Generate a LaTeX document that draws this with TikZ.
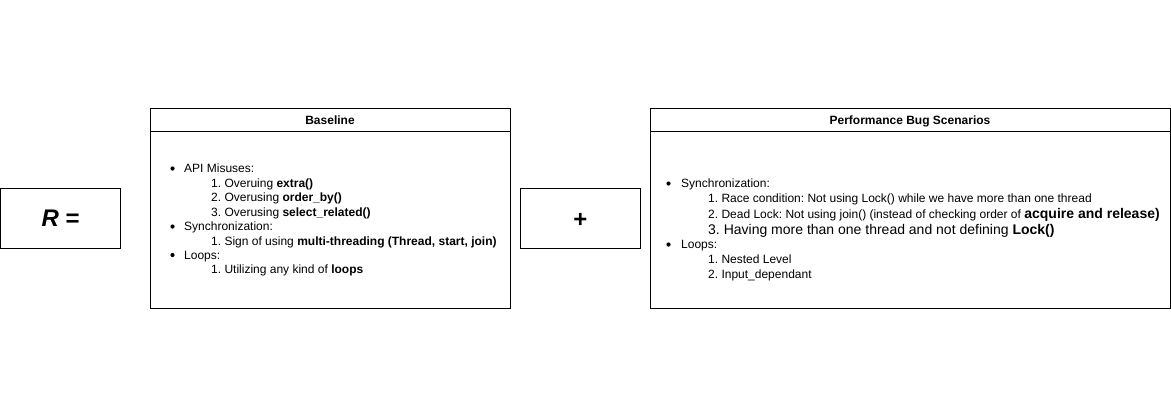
\documentclass[tikz,border=0pt]{standalone}
\usepackage{fontspec}
\setmainfont{Liberation Sans}
\frenchspacing
\begin{document}
\begin{tikzpicture}[x=1pt,y=-1pt,
  box/.style={draw=black,line width=1pt,fill=white},
  txt/.style={anchor=base west,inner sep=0pt,font=\fontsize{12}{14}\selectfont},
  big/.style={anchor=base west,inner sep=0pt,font=\fontsize{14}{16}\selectfont},
  ttl/.style={inner sep=0pt,font=\fontsize{12}{14}\selectfont\bfseries},
  dot/.style={circle,fill=black,inner sep=0pt,minimum size=4.2pt}]
\useasboundingbox (0,0) rectangle (1171,416);
% R box
\node[box,minimum width=120pt,minimum height=60pt,inner sep=0pt,anchor=north west] (rbox) at (0.2,188) {};
\node[inner sep=0pt,font=\fontsize{24}{28}\selectfont\bfseries] (rtxt) at (rbox.center) {\textit{R} =};
% plus box
\node[box,minimum width=120pt,minimum height=60pt,inner sep=0pt,anchor=north west] (pbox) at (520,188) {};
\node[inner sep=0pt,font=\fontsize{24}{28}\selectfont\bfseries] (ptxt) at ([yshift=-1.5pt]pbox.center) {+};
% Baseline box
\node[box,minimum width=360pt,minimum height=200pt,inner sep=0pt,anchor=north west] (bbox) at (150,108) {};
\draw[line width=1pt] (bbox.north west) ++(0,23) coordinate (bh1) -- (bh1 -| bbox.east);
\node[ttl] (btitle) at (330,120.5) {Baseline};
\node[dot] (bd1) at (172.5,168.5) {};
\node[txt] (b1) at (184,172.5) {API Misuses:};
\node[txt] (b2) at (211,187) {1. Overuing \textbf{extra()}};
\node[txt] (b3) at (211,201.5) {2. Overusing \textbf{order\_by()}};
\node[txt] (b4) at (211,216) {3. Overusing \textbf{select\_related()}};
\node[dot] (bd2) at (172.5,226.5) {};
\node[txt] (b5) at (184,230.5) {Synchronization:};
\node[txt] (b6) at (211,245) {1. Sign of using \textbf{multi-threading (Thread, start, join)}};
\node[dot] (bd3) at (172.5,255) {};
\node[txt] (b7) at (184,259) {Loops:};
\node[txt] (b8) at (211,273.5) {1. Utilizing any kind of \textbf{loops}};
% Performance box
\node[box,minimum width=520pt,minimum height=200pt,inner sep=0pt,anchor=north west] (sbox) at (650,108) {};
\draw[line width=1pt] (sbox.north west) ++(0,23) coordinate (sh1) -- (sh1 -| sbox.east);
\node[ttl] (stitle) at (910,121) {Performance Bug Scenarios};
\node[dot] (sd1) at (668.5,183.5) {};
\node[txt] (s1) at (681,187.5) {Synchronization:};
\node[txt] (s2) at (708,202) {1. Race condition: Not using Lock() while we have more than one thread};
\node[txt] (s3) at (708,218) {2. Dead Lock: Not using join() (instead of checking order of {\fontsize{14}{16}\selectfont\bfseries acquire and release)}};
\node[big] (s4) at (708,234) {3. Having more than one thread and not defining \textbf{Lock()}};
\node[dot] (sd2) at (668.5,244.5) {};
\node[txt] (s5) at (681,248.5) {Loops:};
\node[txt] (s6) at (708,263.5) {1. Nested Level};
\node[txt] (s7) at (708,278) {2. Input\_dependant};
\end{tikzpicture}
\end{document}
